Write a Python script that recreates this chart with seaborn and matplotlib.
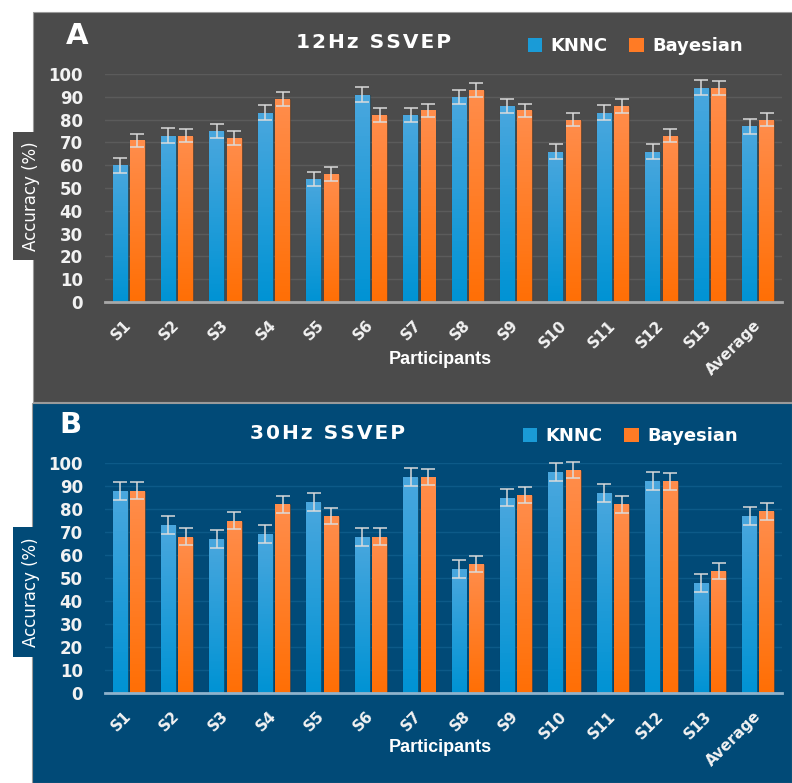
import numpy as np
import pandas as pd
import seaborn as sns
import matplotlib.pyplot as plt
from matplotlib.patches import Rectangle
from matplotlib.colors import LinearSegmentedColormap

# data
participants = ["S1", "S2", "S3", "S4", "S5", "S6", "S7", "S8", "S9", "S10",
                "S11", "S12", "S13", "Average"]
methods = ["KNNC", "Bayesian"]

knnc_12 = [60, 73, 75, 83, 54, 91, 82, 90, 86, 66, 83, 66, 94, 77]
bayes_12 = [71, 73, 72, 89, 56, 82, 84, 93, 84, 80, 86, 73, 94, 80]
knnc_12_err = [3.3, 3.2, 3.2, 3.2, 3.2, 3.2, 3.2, 3.2, 3.2, 3.2, 3.2, 3.2, 3.2, 3.2]
bayes_12_err = [2.8, 3.0, 3.0, 3.0, 3.0, 3.0, 3.0, 3.0, 3.0, 3.0, 3.0, 3.0, 3.0, 3.0]

knnc_30 = [88, 73, 67, 69, 83, 68, 94, 54, 85, 96, 87, 92, 48, 77]
bayes_30 = [88, 68, 75, 82, 77, 68, 94, 56, 86, 97, 82, 92, 53, 79]
knnc_30_err = [3.9, 3.9, 3.9, 3.9, 3.9, 3.9, 3.9, 4.0, 3.9, 3.9, 3.9, 3.9, 3.9, 3.9]
bayes_30_err = [3.6, 3.6, 3.6, 3.6, 3.6, 3.6, 3.6, 3.6, 3.6, 3.6, 3.6, 3.6, 3.6, 3.6]

W, H = 792, 783
def fx(px):
    return px / W
def fy(py):
    return 1 - py / H

blue = "#1a9bd7"
orange = "#ff7b25"
blue_cmap = LinearSegmentedColormap.from_list("b", ["#0093d4", "#4aa7de"])
orange_cmap = LinearSegmentedColormap.from_list("o", ["#ff6f05", "#ff8d4c"])

plt.rcParams["font.family"] = ["DejaVu Sans"]
fig = plt.figure(figsize=(7.92, 7.83), dpi=100, facecolor="white")


def hz(s):
    # a bit of letter spacing like the original title
    return "\u200a".join(s)


def draw_panel(knnc, bayes, kerr, berr, bg, gridc, spinec, box, label_box,
               ax_y0, ax_y100, letter_xy, title, title_xy, legend_xy, xlab_y):
    x0, y0, x1, y1 = box
    fig.patches.append(Rectangle((fx(x0), fy(y1)), fx(x1) - fx(x0), fy(y0) - fy(y1),
                                 transform=fig.transFigure, facecolor=bg,
                                 edgecolor="#9a9a9a", linewidth=0.8, zorder=-2))
    lx0, ly0, lx1, ly1 = label_box
    fig.patches.append(Rectangle((fx(lx0), fy(ly1)), fx(lx1) - fx(lx0), fy(ly0) - fy(ly1),
                                 transform=fig.transFigure, facecolor=bg,
                                 edgecolor="none", zorder=-2))

    df = pd.DataFrame({
        "Participant": participants * 2,
        "Method": [methods[0]] * len(participants) + [methods[1]] * len(participants),
        "Accuracy": knnc + bayes,
    })

    ax = fig.add_axes([fx(105), fy(ax_y0), fx(782) - fx(105), fy(ax_y100) - fy(ax_y0)])
    sns.barplot(data=df, x="Participant", y="Accuracy", hue="Method",
                palette={"KNNC": blue, "Bayesian": orange}, width=0.72, gap=0.14,
                errorbar=None, legend=False, ax=ax, zorder=2,
                edgecolor=(0, 0, 0, 0.25), linewidth=0.8)

    grad = np.linspace(0, 1, 64).reshape(-1, 1)
    for cont, cmap, vals, errs in zip(ax.containers, [blue_cmap, orange_cmap],
                                      [knnc, bayes], [kerr, berr]):
        xs = []
        for p in cont:
            x, w, h = p.get_x(), p.get_width(), p.get_height()
            im = ax.imshow(grad, extent=[x, x + w, 0, h], origin="lower",
                           aspect="auto", cmap=cmap, zorder=3)
            im.set_clip_path(p)
            xs.append(x + w / 2)
        ax.errorbar(xs, vals, yerr=errs, fmt="none", ecolor="#dcdcdc",
                    elinewidth=1.2, capsize=5, capthick=1.2, zorder=4,
                    clip_on=False, alpha=0.9)

    ax.set_xlim(-0.49, 13.49)
    ax.set_ylim(0, 100)
    ax.set_facecolor("none")
    ax.set_yticks(range(0, 101, 10))
    ax.grid(axis="y", color=gridc, linewidth=1)
    ax.grid(axis="x", visible=False)
    ax.set_axisbelow(True)
    for s in ["top", "right", "left"]:
        ax.spines[s].set_visible(False)
    ax.spines["bottom"].set_color(spinec)
    ax.spines["bottom"].set_linewidth(2)
    ax.spines["bottom"].set_zorder(5)
    ax.tick_params(axis="y", length=0, pad=16, labelsize=12, labelcolor="#f2f2f2")
    ax.tick_params(axis="x", length=0, pad=15)
    for t in ax.get_yticklabels():
        t.set_fontweight("bold")
    ax.set_xticks(range(len(participants)), participants, rotation=45, ha="right",
                  va="center", rotation_mode="anchor", fontsize=11,
                  fontweight="bold", color="#f2f2f2")
    ax.set_xlabel("")
    ax.set_ylabel("")

    fig.text(fx(31), fy((ly0 + ly1) / 2), "Accuracy (%)", rotation=90,
             ha="center", va="center", fontsize=12, color="white")
    fig.text(fx(letter_xy[0]), fy(letter_xy[1]), letter_xy[2], ha="center",
             va="center", fontsize=21, fontweight="bold", color="white")
    fig.text(fx(title_xy[0]), fy(title_xy[1]), hz(title), ha="center", va="center",
             fontsize=14.5, fontweight="bold", color="white")
    fig.text(fx(440), fy(xlab_y), "Participants", ha="center", va="center",
             fontsize=13, fontweight="bold", color="white", family="Liberation Sans")

    handles = [Rectangle((0, 0), 1, 1, facecolor=blue),
               Rectangle((0, 0), 1, 1, facecolor=orange)]
    leg = fig.legend(handles, methods, loc="center left",
                     bbox_to_anchor=(fx(legend_xy[0]), fy(legend_xy[1])),
                     ncol=2, frameon=False, borderpad=0, borderaxespad=0,
                     handlelength=0.8, handleheight=0.8, handletextpad=0.45,
                     columnspacing=1.2, prop={"size": 13, "weight": "bold"})
    for t in leg.get_texts():
        t.set_color("white")
    return ax


draw_panel(knnc_12, bayes_12, knnc_12_err, bayes_12_err,
           bg="#4b4b4b", gridc="#5b5b5b", spinec="#a8a8a8",
           box=(33, 12, 792, 402), label_box=(13, 132, 52, 260),
           ax_y0=302, ax_y100=74, letter_xy=(77, 36, "A"),
           title="12Hz SSVEP", title_xy=(374, 42), legend_xy=(528, 46), xlab_y=360)

draw_panel(knnc_30, bayes_30, knnc_30_err, bayes_30_err,
           bg="#014a77", gridc="#0d5a88", spinec="#8fb3cc",
           box=(32, 403, 792, 783), label_box=(13, 527, 52, 657),
           ax_y0=693, ax_y100=463, letter_xy=(70, 425, "B"),
           title="30Hz SSVEP", title_xy=(328, 433), legend_xy=(523, 436), xlab_y=747)

fig.savefig("out.png", dpi=100, facecolor="white")
